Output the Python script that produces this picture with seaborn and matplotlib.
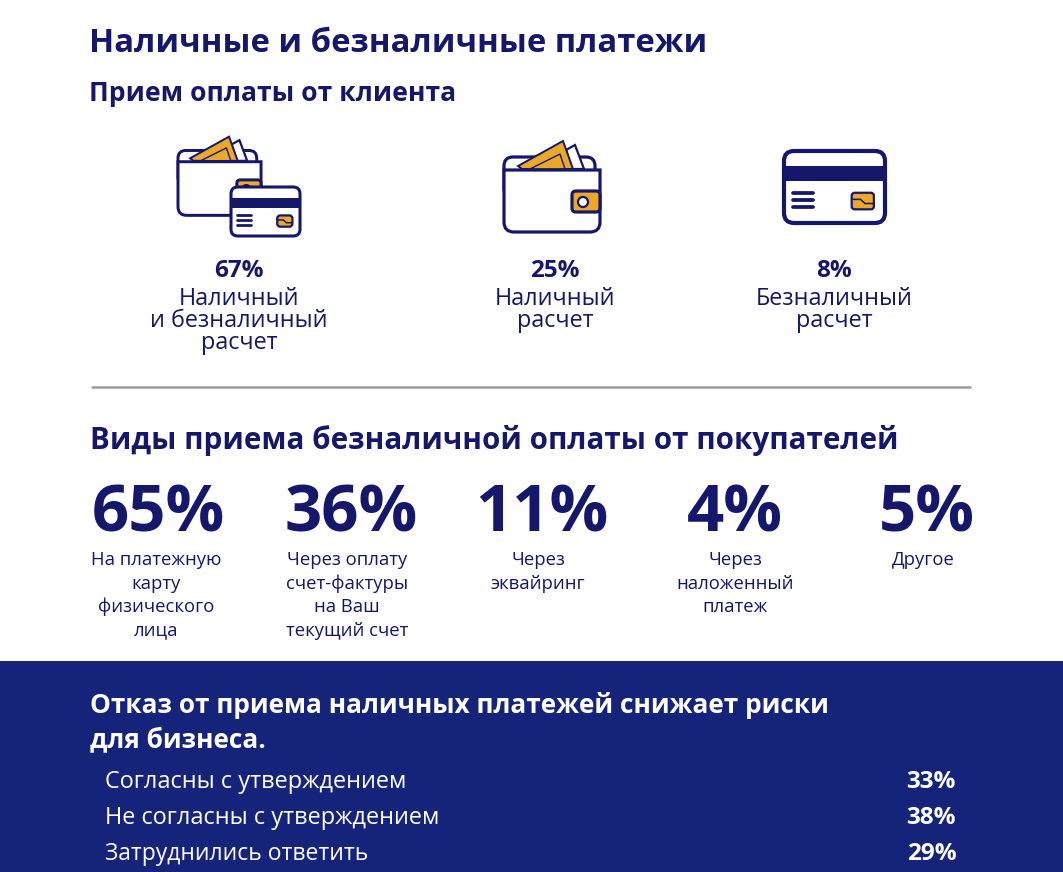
# Наличные и безналичные платежи - infographic
import matplotlib
matplotlib.use("Agg")
import matplotlib.pyplot as plt
from matplotlib.patches import FancyBboxPatch, Polygon, Rectangle, Circle, PathPatch
from matplotlib.path import Path
import seaborn as sns

NAVY = "#14176a"
PANEL = "#16237a"
GOLD = "#eba927"
GREY = "#9a9aac"

title = "Наличные и безналичные платежи"
sub1 = "Прием оплаты от клиента"
sub2 = "Виды приема безналичной оплаты от покупателей"

pay_pct = ["67%", "25%", "8%"]
pay_lbl = ["Наличный\nи безналичный\nрасчет", "Наличный\nрасчет", "Безналичный\nрасчет"]

kind_pct = ["65%", "36%", "11%", "4%", "5%"]
kind_lbl = ["На платежную\nкарту\nфизического\nлица",
            "Через оплату\nсчет-фактуры\nна Ваш\nтекущий счет",
            "Через\nэквайринг",
            "Через\nналоженный\nплатеж",
            "Другое"]

panel_head = ["Отказ от приема наличных платежей снижает риски", "для бизнеса."]
answers = ["Согласны с утверждением", "Не согласны с утверждением", "Затруднились ответить"]
answer_pct = ["33%", "38%", "29%"]

sns.set_theme(style="white")
plt.rcParams["font.family"] = ["Open Sans", "DejaVu Sans"]

fig = plt.figure(figsize=(10.63, 8.72), dpi=100)
ax = fig.add_axes([0, 0, 1, 1])
ax.set_xlim(0, 1063)
ax.set_ylim(872, 0)
ax.axis("off")


def box(x, y, w, h, r=8, fc="white", ec=NAVY, lw=2.4, z=2):
    ax.add_patch(FancyBboxPatch((x + r, y + r), w - 2 * r, h - 2 * r,
                                boxstyle="round,pad=%f,rounding_size=%f" % (r, r),
                                fc=fc, ec=ec, lw=lw, zorder=z))


def wallet(x, y, s=1.0):
    # x, y = top left of the wallet icon, units are px of the big wallet
    def pt(a, b):
        return (x + a * s, y + b * s)
    lw = 2.3 * s ** 0.5
    # flap, only top and right side stay visible
    box(x, y + 15 * s, 91 * s, 40 * s, r=9 * s, lw=lw, z=2)
    # notes sticking out
    ax.add_patch(Polygon([pt(62, 8), pt(71, 3), pt(80, 27), pt(68, 27)], fc="white", ec=NAVY, lw=1.6, zorder=3))
    ax.add_patch(Polygon([pt(14, 24), pt(59, -1), pt(69, 27), pt(18, 27)], fc=GOLD, ec=NAVY, lw=1.4, zorder=4))
    ax.add_patch(Polygon([pt(26, 27), pt(56, 12), pt(61, 27)], fc=GOLD, ec=NAVY, lw=1.0, zorder=5))
    # body with square top corners
    r = 10 * s
    verts = [pt(0, 28), pt(96, 28), (x + 96 * s, y + 90 * s - r), pt(96, 90), (x + 96 * s - r, y + 90 * s),
             (x + r, y + 90 * s), pt(0, 90), (x, y + 90 * s - r), pt(0, 28)]
    codes = [Path.MOVETO, Path.LINETO, Path.LINETO, Path.CURVE3, Path.CURVE3,
             Path.LINETO, Path.CURVE3, Path.CURVE3, Path.CLOSEPOLY]
    ax.add_patch(PathPatch(Path(verts, codes), fc="white", ec=NAVY, lw=lw, zorder=6))
    # clasp
    box(x + 68 * s, y + 49 * s, 28 * s, 21 * s, r=4 * s, fc=GOLD, lw=lw, z=9)
    ax.add_patch(Circle(pt(79, 60), 5 * s, fc="white", ec=NAVY, lw=1.6, zorder=10))


def card(x, y, w, h, stripe_top, stripe_h, lw=2.6, z=12):
    box(x, y, w, h, r=h * 0.14, lw=lw, z=z)
    ax.add_patch(Rectangle((x, y + stripe_top), w, stripe_h, fc=NAVY, ec="none", zorder=z + 1))
    for i in range(3):
        yy = y + h * 0.58 + i * h * 0.1
        ax.plot([x + w * 0.09, x + w * 0.29], [yy, yy], color=NAVY, lw=lw * 0.9, zorder=z + 1)
    cw, ch = w * 0.22, h * 0.23
    cx, cy = x + w * 0.67, y + h * 0.58
    box(cx, cy, cw, ch, r=3, fc=GOLD, lw=1.6, z=z + 1)
    ax.plot([cx, cx + cw * 0.4, cx + cw * 0.6, cx + cw],
            [cy + ch * 0.4, cy + ch * 0.4, cy + ch * 0.65, cy + ch * 0.65],
            color=NAVY, lw=1.1, zorder=z + 2)


# headers
ax.text(89, 44, title, fontsize=23.7, fontweight="bold", color=NAVY, va="center", ha="left")
ax.text(89, 94, sub1, fontsize=19.1, fontweight="bold", color=NAVY, va="center", ha="left")

# icons
wallet(178, 137.5, 0.865)
card(231, 187, 69, 49, 11, 10, lw=2.2)
wallet(504, 142, 1.0)
card(784, 151, 101, 72, 15, 15, lw=3)

# payment acceptance block
pay_x = [239, 555, 834]
for x, pct, lbl in zip(pay_x, pay_pct, pay_lbl):
    ax.text(x, 271, pct, fontsize=17.5, fontweight="bold", color=NAVY, ha="center", va="center")
    for i, line in enumerate(lbl.split("\n")):
        ax.text(x, 299 + i * 22, line, fontsize=16.8, color=NAVY, ha="center", va="center")

ax.plot([92, 970], [387, 387], color=GREY, lw=1.8)

# kinds of cashless payment
ax.text(90, 440, sub2, fontsize=21.3, fontweight="bold", color=NAVY, va="center", ha="left")
kind_x = [158, 351, 542, 735, 927]
lbl_x = [156, 347, 538, 735, 923]
for x, lx, pct, lbl in zip(kind_x, lbl_x, kind_pct, kind_lbl):
    ax.text(x, 515, pct, fontsize=47, fontweight="bold", color=NAVY, ha="center", va="center")
    for i, line in enumerate(lbl.split("\n")):
        ax.text(lx, 560 + i * 23.5, line, fontsize=13.3, color=NAVY, ha="center", va="center")

# bottom panel
ax.add_patch(Rectangle((0, 661), 1063, 211, fc=PANEL, ec="none"))
for i, line in enumerate(panel_head):
    ax.text(90, 705 + i * 35, line, fontsize=18.9, fontweight="bold", color="white", va="center", ha="left")
pct_x = [931, 931, 932]
ans_size = [16.9, 16.9, 16.5]
for i, (a, p, px, fs) in enumerate(zip(answers, answer_pct, pct_x, ans_size)):
    yy = 782 + i * 36
    ax.text(105, yy, a, fontsize=fs, color="white", va="center", ha="left")
    ax.text(px, yy, p, fontsize=17.5, fontweight="bold", color="white", va="center", ha="center")

fig.savefig("out.png", dpi=100)
